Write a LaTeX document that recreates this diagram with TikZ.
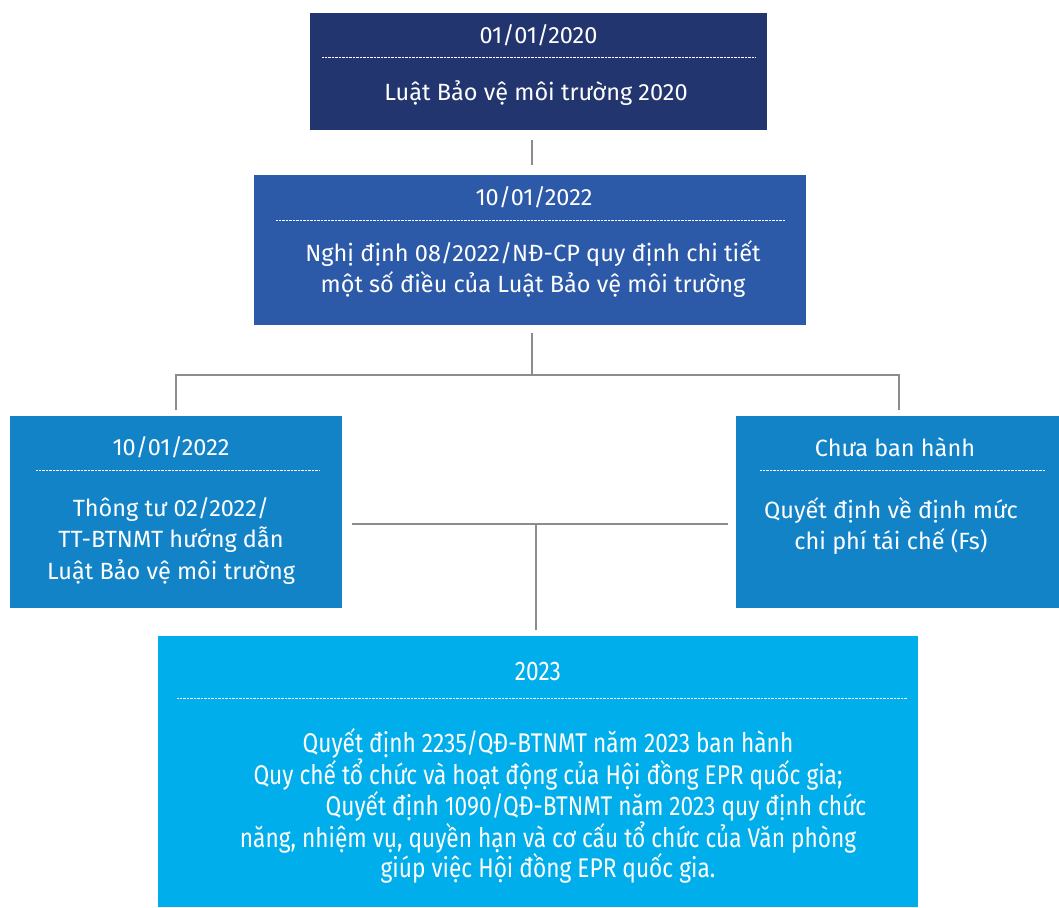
\documentclass[tikz,border=0pt]{standalone}
\usepackage{fontspec}
\setmainfont{Fira Sans}
\newfontfamily\condfont[FakeStretch=0.84]{Fira Sans}
\definecolor{cnavy}{HTML}{22356F}
\definecolor{cblue}{HTML}{2C5AA8}
\definecolor{cmid}{HTML}{1383C8}
\definecolor{csky}{HTML}{00AEEB}
\definecolor{cline}{HTML}{8C8C8C}
\begin{document}
\begin{tikzpicture}[x=1pt,y=-1pt,
  boxnode/.style={rectangle, inner sep=0pt, draw=none},
  txt/.style={text=white, font=\fontsize{23.5}{31.3}\selectfont, align=center, inner sep=0pt},
  ctxt/.style={text=white, font=\condfont\fontsize{27}{30.3}\selectfont, align=center, inner sep=0pt},
  sep/.style={white, line width=0.7pt, dash pattern=on 0.7pt off 0.7pt},
  conn/.style={cline, line width=2pt}]
\useasboundingbox (0,0) rectangle (1059,907);
% boxes
\node[boxnode, fill=cnavy, minimum width=457pt, minimum height=117pt] (b1) at (538.5,71.5) {};
\node[boxnode, fill=cblue, minimum width=552pt, minimum height=150pt] (b2) at (530,250) {};
\node[boxnode, fill=cmid, minimum width=332pt, minimum height=192pt] (b3) at (176,512) {};
\node[boxnode, fill=cmid, minimum width=323pt, minimum height=192pt] (b4) at (897.5,512) {};
\node[boxnode, fill=csky, minimum width=760pt, minimum height=271pt] (b5) at (538,771.5) {};
% box 1
\node[txt] (t1a) at (538.5,35) {01/01/2020};
\draw[sep] (322,57) -- (755,57);
\node[txt] (t1b) at (536,93) {Luật Bảo vệ môi trường 2020};
% box 2
\node[txt] (t2a) at (534,197) {10/01/2022};
\draw[sep] (276,220) -- (785,220);
\node[txt] (t2b) at (533,269) {Nghị định 08/2022/NĐ-CP quy định chi tiết\\một số điều của Luật Bảo vệ môi trường};
% box 3
\node[txt] (t3a) at (171,447) {10/01/2022};
\draw[sep] (36,470) -- (320,470);
\node[txt] (t3b) at (171,541) {Thông tư 02/2022/\\TT-BTNMT hướng dẫn\\Luật Bảo vệ môi trường};
% box 4
\node[txt] (t4a) at (895,447) {Chưa ban hành};
\draw[sep] (760,470) -- (1045,470);
\node[txt] (t4b) at (891,526) {Quyết định về định mức\\chi phí tái chế (Fs)};
% box 5
\node[ctxt] (t5a) at (538,671) {2023};
\draw[sep] (177,698) -- (907,698);
\node[ctxt] (t5b) at (548,806) {Quyết định 2235/QĐ-BTNMT năm 2023 ban hành\\Quy chế tổ chức và hoạt động của Hội đồng EPR quốc gia;\\\hspace*{96pt}Quyết định 1090/QĐ-BTNMT năm 2023 quy định chức\\năng, nhiệm vụ, quyền hạn và cơ cấu tổ chức của Văn phòng\\giúp việc Hội đồng EPR quốc gia.};
% connectors
\coordinate (jl) at (176,375);
\coordinate (jr) at (899,375);
\coordinate (m) at (536,524);
\draw[conn] ([yshift=-10pt]b1.south -| 532,0) -- ([yshift=10pt]b2.north -| 532,0);
\draw[conn] ([yshift=-8pt]b2.south -| 532,0) -- (532,375);
\draw[conn] ([yshift=6pt]b3.north -| jl) -- (jl) -- (jr) -- ([yshift=6pt]b4.north -| jr);
\draw[conn] ([xshift=10pt]b3.east |- m) -- ([xshift=-8pt]b4.west |- m);
\draw[conn] (m) -- ([yshift=6pt]b5.north -| m);
\end{tikzpicture}
\end{document}
